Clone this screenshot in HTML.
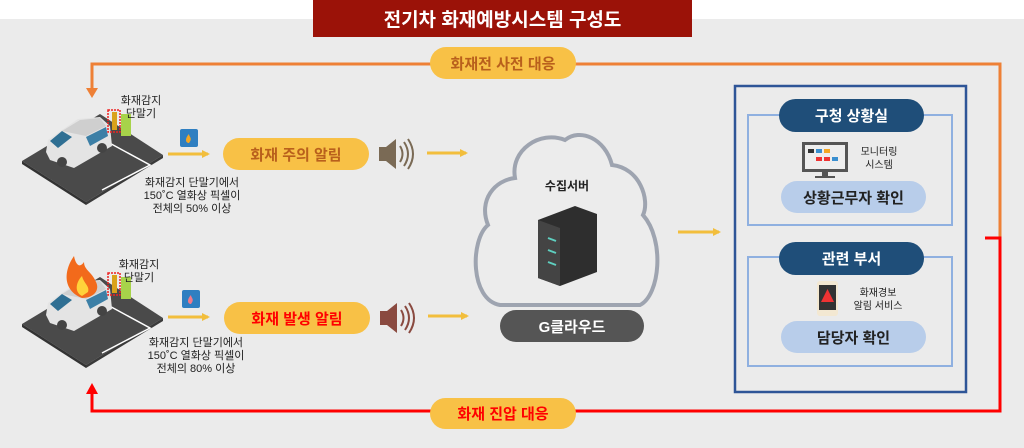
<!DOCTYPE html>
<html><head><meta charset="utf-8"><style>
*{margin:0;padding:0;box-sizing:border-box}
body{width:1024px;height:448px;position:relative;overflow:hidden;background:#fff;font-family:"Liberation Sans","Noto Sans CJK KR",sans-serif}
.a{position:absolute}
.pill{position:absolute;border-radius:17px;display:flex;align-items:center;justify-content:center;font-weight:bold;white-space:nowrap}
.t{position:absolute;font-size:11px;color:#222;text-align:center;line-height:13px;white-space:nowrap}
</style></head><body>
<div class="a" style="left:0;top:19px;width:1024px;height:429px;background:#ebebeb"></div>
<svg class="a" style="left:0;top:0" width="1024" height="448">
<defs>
<marker id="ya" markerWidth="8" markerHeight="8" refX="6" refY="4" orient="auto" markerUnits="userSpaceOnUse"><path d="M0,0 L8,4 L0,8z" fill="#f2be3c"/></marker>
<g id="lot">
<path d="M22,161 L100,114 L163,155 L86,202z" fill="#4a4a4a"/>
<path d="M22,161 L86,202 L86,205 L22,164z" fill="#333"/>
<path d="M86,202 L163,155 L163,158 L86,205z" fill="#3a3a3a"/>
<path d="M104,140 L150,165 L102,190" stroke="#fff" stroke-width="1.5" fill="none"/>
<path d="M46,152 L48,140 L62,130 L78,119 L100,117 L110,126 L112,146 L74,168 L50,160z" fill="#e4e4e4"/>
<path d="M62,131 L80,120 L100,118 L106,126 L86,136z" fill="#cfcfcf"/>
<path d="M50,141 L62,131 L72,137 L58,148z" fill="#2f6f93"/>
<path d="M86,137 L106,127 L108,136 L90,146z" fill="#3c7fa6"/>
<circle cx="62" cy="162" r="5" fill="#444"/><circle cx="102" cy="148" r="5" fill="#444"/>
<rect x="108" y="110" width="12" height="22" fill="none" stroke="#e22" stroke-width="1.5" stroke-dasharray="2,1"/>
<rect x="112" y="112" width="5" height="18" fill="#d9a21b"/>
<rect x="121" y="114" width="10" height="22" fill="#a7d34a"/>
</g>
</defs>
<polyline points="1000,238 1000,64 92,64 92,90" fill="none" stroke="#ee8036" stroke-width="3"/>
<path d="M86,88 L98,88 L92,98z" fill="#ee8036"/>
<polyline points="985,238 1000,238 1000,411 92,411 92,393" fill="none" stroke="#f00" stroke-width="3"/>
<path d="M86,394 L98,394 L92,383z" fill="#f00"/>
<g stroke="#f2be3c" stroke-width="3" fill="none">
<line x1="168" y1="154" x2="208" y2="154" marker-end="url(#ya)"/>
<line x1="427" y1="153" x2="466" y2="153" marker-end="url(#ya)"/>
<line x1="168" y1="317" x2="208" y2="317" marker-end="url(#ya)"/>
<line x1="428" y1="316" x2="467" y2="316" marker-end="url(#ya)"/>
<line x1="678" y1="232" x2="719" y2="232" marker-end="url(#ya)"/>
</g>
<use href="#lot"/>
<use href="#lot" transform="translate(0,163)"/>
<path d="M82,298 C62,290 64,270 74,256 C76,266 80,268 84,262 C84,270 92,272 96,282 C100,290 94,298 82,298z" fill="#f26a1b"/>
<path d="M82,296 C74,292 76,282 82,276 C84,284 90,286 88,292z" fill="#ffd23a"/>
<g><rect x="180" y="129" width="18" height="18" rx="2" fill="#2f7fc1"/><path d="M189,143 c-4,0 -4,-5 0,-9 c0,3 4,4 0,9z" fill="#f5a623"/></g>
<g><rect x="182" y="290" width="18" height="18" rx="2" fill="#2f7fc1"/><path d="M191,304 c-4,0 -4,-5 0,-9 c0,3 4,4 0,9z" fill="#f27a8a"/></g>
<g fill="#7a6a55" stroke="#7a6a55"><rect x="379" y="147" width="7" height="14" stroke="none"/><path d="M386,147 L396,139 L396,169 L386,161z" stroke="none"/>
<path d="M400,146 q5,8 0,16 M404,142 q8,12 0,24 M408,139 q10,15 0,30" fill="none" stroke-width="2"/></g>
<g fill="#8a4a40" stroke="#8a4a40"><rect x="380" y="311" width="7" height="14" stroke="none"/><path d="M387,311 L397,303 L397,333 L387,325z" stroke="none"/>
<path d="M401,310 q5,8 0,16 M405,306 q8,12 0,24 M409,303 q10,15 0,30" fill="none" stroke-width="2"/></g>
<path d="M500,305 C470,300 470,240 488,225 C478,200 495,180 515,178 C510,150 540,130 565,140 C580,128 605,138 612,165 C640,168 650,200 643,215 C665,240 660,295 640,305z" fill="#ececec" stroke="#9ea4b0" stroke-width="4"/>
<path d="M538,220 L575,206 L597,214 L597,272 L560,286 L538,278z" fill="#2e2e2e"/>
<path d="M538,220 L560,228 L560,286 L538,278z" fill="#444"/>
<g stroke="#5fd0c0" stroke-width="2"><line x1="548" y1="238" x2="556" y2="241"/><line x1="548" y1="250" x2="556" y2="253"/><line x1="548" y1="262" x2="556" y2="265"/></g>
<rect x="735" y="86" width="231" height="306" fill="none" stroke="#2e5597" stroke-width="2.5"/>
<rect x="748" y="115" width="204" height="110" fill="none" stroke="#8fb0e0" stroke-width="2"/>
<rect x="748" y="257" width="204" height="109" fill="none" stroke="#8fb0e0" stroke-width="2"/>
<rect x="802" y="142" width="46" height="30" fill="#555"/><rect x="805" y="145" width="40" height="24" fill="#eee"/>
<rect x="808" y="149" width="6" height="4" fill="#333"/><rect x="816" y="149" width="6" height="4" fill="#3a8fd0"/><rect x="824" y="149" width="6" height="4" fill="#f5a623"/>
<rect x="816" y="157" width="6" height="4" fill="#e33"/><rect x="824" y="157" width="6" height="4" fill="#e33"/><rect x="832" y="157" width="6" height="4" fill="#3a8fd0"/>
<rect x="822" y="172" width="6" height="4" fill="#555"/><rect x="815" y="176" width="20" height="2" fill="#555"/>
<rect x="817" y="281" width="21" height="35" rx="3" fill="#f3e8d2"/><rect x="819" y="285" width="17" height="25" fill="#333"/>
<path d="M827.5,289 L834,302 L821,302z" fill="#e33"/>
</svg>
<div class="a" style="left:313px;top:0;width:379px;height:37px;background:#9b1208;color:#fff;font-weight:bold;font-size:19px;display:flex;align-items:center;justify-content:center">전기차 화재예방시스템 구성도</div>
<div class="pill" style="left:430px;top:47px;width:146px;height:32px;background:#f8c146;color:#b9601c;font-size:15px">화재전 사전 대응</div>
<div class="pill" style="left:430px;top:398px;width:146px;height:31px;background:#f8c146;color:#f00;font-size:15px">화재 진압 대응</div>
<div class="pill" style="left:223px;top:138px;width:146px;height:32px;background:#f8c146;color:#b9601c;font-size:15px">화재 주의 알림</div>
<div class="pill" style="left:224px;top:302px;width:146px;height:32px;background:#f8c146;color:#f00;font-size:15px">화재 발생 알림</div>
<div class="t" style="left:118px;top:95px;width:46px">화재감지<br>단말기</div>
<div class="t" style="left:116px;top:259px;width:46px">화재감지<br>단말기</div>
<div class="t" style="left:130px;top:177px;width:124px">화재감지 단말기에서<br>150˚C 열화상 픽셀이<br>전체의 50% 이상</div>
<div class="t" style="left:134px;top:337px;width:124px">화재감지 단말기에서<br>150˚C 열화상 픽셀이<br>전체의 80% 이상</div>
<div class="t" style="left:537px;top:180px;width:60px;font-weight:bold;font-size:12px">수집서버</div>
<div class="pill" style="left:500px;top:310px;width:144px;height:32px;background:#555;color:#fff;font-size:15px">G클라우드</div>
<div class="pill" style="left:779px;top:99px;width:145px;height:33px;background:#1f4e79;color:#fff;font-size:15px">구청 상황실</div>
<div class="pill" style="left:779px;top:242px;width:145px;height:33px;background:#1f4e79;color:#fff;font-size:15px">관련 부서</div>
<div class="pill" style="left:781px;top:181px;width:145px;height:32px;background:#b8cdea;color:#222;font-size:15px">상황근무자 확인</div>
<div class="pill" style="left:781px;top:321px;width:145px;height:32px;background:#b8cdea;color:#222;font-size:15px">담당자 확인</div>
<div class="t" style="left:852px;top:146px;width:54px;font-size:10px">모니터링<br>시스템</div>
<div class="t" style="left:848px;top:287px;width:60px;font-size:10px">화재경보<br>알림 서비스</div>
</body></html>
